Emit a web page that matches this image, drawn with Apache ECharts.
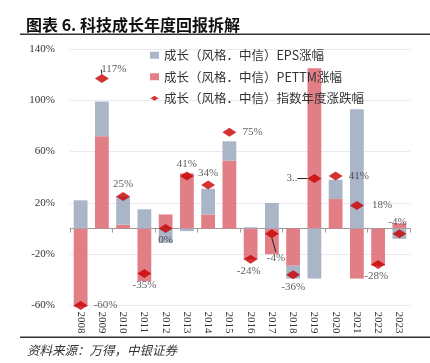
<!DOCTYPE html>
<html><head><meta charset="utf-8">
<script src="https://cdn.jsdelivr.net/npm/echarts@6/dist/echarts.min.js"></script>
<style>html,body{margin:0;padding:0;background:#fff}#c{width:430px;height:363px}</style>
</head><body><div id="c"></div>
<script>
const categories = ['2008','2009','2010','2011','2012','2013','2014','2015','2016','2017','2018','2019','2020','2021','2022','2023'];
const epsGrowth = [22, 27, 22, 15, -11, -2, 20, 15, 1, 20, -10, -39, 15, 93, 0, -8];
const peGrowth = [-61, 72, 3, -41, 11, 43, 11, 53, -24, -20, -29, 125, 23, -39, -29, 4];
const indexReturn = [-60, 117, 25, -35, 0, 41, 34, 75, -24, -4, -36, 39, 41, 18, -28, -4];
const yTickValues = [-60, -20, 20, 60, 100, 140];
const nameEPS = '成长（风格．中信）EPS涨幅';
const namePE = '成长（风格．中信）PETTM涨幅';
const nameIdx = '成长（风格．中信）指数年度涨跌幅';
const titleText = '图表 6. 科技成长年度回报拆解';
const sourceText = '资料来源：万得，中银证券';

// label placement per point (style config)
const labelPlace = [
  {p:'right', d:6}, {p:'top', d:2, dx:12, dy:3, line:true}, {p:'top', d:2}, {p:'bottom', d:2},
  {p:'bottom', d:2}, {p:'top', d:2}, {p:'top', d:2}, {p:'right', d:6},
  {p:'bottom', d:2, dx:-2}, {p:'bottom', d:2, dx:4, dy:12, line:true}, {p:'bottom', d:2}, {p:'left', d:2, dx:-8, line:true, trunc:true},
  {p:'right', d:6}, {p:'right', d:8}, {p:'bottom', d:2, dx:-2}, {p:'top', d:2, dx:-2}
];

const serif = '"Liberation Serif","DejaVu Serif",serif';
const cjk = '"Noto Sans CJK SC","Noto Sans",sans-serif';
const grayC = '#AAB5C8', redC = '#E27E85', dia = '#C80000';

const idxData = indexReturn.map((v, i) => {
  const lp = labelPlace[i];
  const lab = {position: lp.p, distance: lp.d};
  if (lp.trunc) { lab.width = 12; lab.overflow = 'truncate'; lab.ellipsis = '..'; }
  const item = {value: v, label: lab};
  if (!lp.line) item.labelLine = {show: false};
  return item;
});

const chart = echarts.init(document.getElementById('c'), null, {renderer: 'canvas'});
chart.setOption({
  animation: false,
  backgroundColor: '#fff',
  title: [
    {text: titleText, left: 21, top: 12, textStyle: {fontFamily: cjk, fontSize: 16, fontWeight: 'bold', color: '#111'}},
    {text: sourceText, left: 22, top: 339, textStyle: {fontFamily: cjk, fontSize: 12.5, fontStyle: 'italic', fontWeight: 'normal', color: '#333'}}
  ],
  graphic: [
    {type: 'rect', shape: {x: 20, y: 33.5, width: 410, height: 1.5}, style: {fill: '#333'}},
    {type: 'rect', shape: {x: 20, y: 336.5, width: 410, height: 1.5}, style: {fill: '#333'}}
  ],
  legend: {
    orient: 'vertical', left: 145, top: 44, itemGap: 9, itemWidth: 9, itemHeight: 7,
    textStyle: {fontFamily: cjk, fontSize: 12.5, color: '#333'},
    data: [
      {name: nameEPS, icon: 'rect'},
      {name: namePE, icon: 'rect'},
      {name: nameIdx, icon: 'path://M-2,4.6 L12,4.6 L12,5.4 L-2,5.4 Z M5,1 L11,5 L5,9 L-1,5 Z'}
    ]
  },
  grid: {left: 70, right: 20, top: 49, bottom: 57.5, containLabel: false},
  xAxis: [
    {type: 'category', data: categories, position: 'bottom',
     axisLine: {show: false, onZero: false}, axisTick: {show: false},
     axisLabel: {rotate: -90, margin: 6, fontFamily: serif, fontSize: 11, color: '#333'}},
    {type: 'category', data: categories, position: 'bottom', gridIndex: 0,
     axisLine: {show: true, onZero: true, lineStyle: {color: '#9a9a9a', width: 1}},
     axisTick: {show: true, inside: false, length: 4, lineStyle: {color: '#9a9a9a'}},
     axisLabel: {show: false}}
  ],
  yAxis: {
    type: 'value', min: -60, max: 140, interval: 40,
    axisLine: {show: false}, axisTick: {show: false},
    axisLabel: {margin: 15, fontFamily: serif, fontSize: 11, color: '#333',
      formatter: v => (yTickValues.indexOf(v) >= 0 ? v + '%' : '')},
    splitLine: {show: true, lineStyle: {color: '#e9e9ef', width: 1}}
  },
  series: [
    {name: namePE, type: 'bar', stack: 'g', xAxisIndex: 0, data: peGrowth, barWidth: '65%', clip: false,
     itemStyle: {color: redC}},
    {name: nameEPS, type: 'bar', stack: 'g', xAxisIndex: 0, data: epsGrowth, barWidth: '65%', clip: false,
     itemStyle: {color: grayC}},
    {name: nameIdx, type: 'scatter', xAxisIndex: 0, data: idxData, symbol: 'diamond', symbolSize: [14, 9], z: 5,
     itemStyle: {color: dia},
     label: {show: true, formatter: p => p.value + '%', fontFamily: serif, fontSize: 11, color: '#333'},
     labelLine: {show: true, lineStyle: {color: '#222', width: 1}},
     labelLayout: function (params) {
       const lp = labelPlace[params.dataIndex];
       if (lp.dx || lp.dy) return {dx: lp.dx || 0, dy: lp.dy || 0};
       return {};
     }}
  ]
});
</script>
</body></html>
